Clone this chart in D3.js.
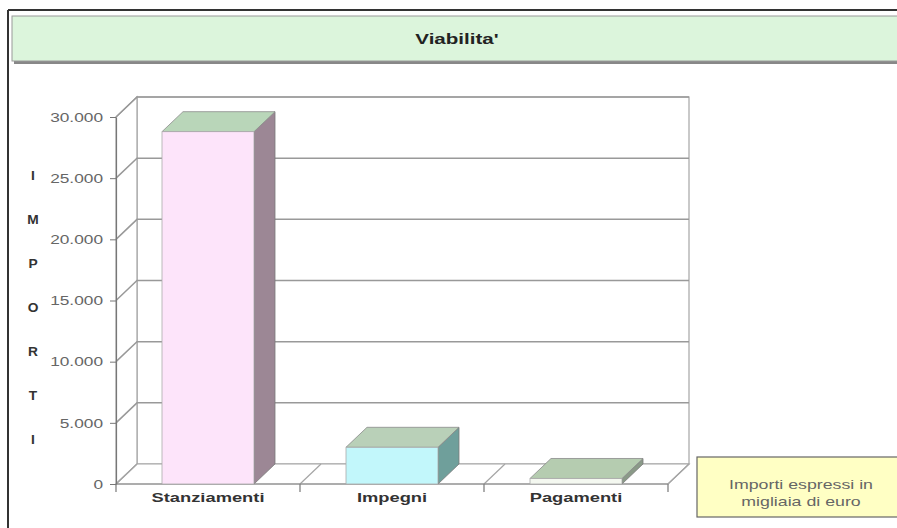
<!DOCTYPE html>
<html>
<head>
<meta charset="utf-8">
<script src="https://cdn.jsdelivr.net/npm/d3@7"></script>
<style>
  body { margin: 0; background: #fff; }
  text { font-family: "Liberation Sans", Arial, sans-serif; }
</style>
</head>
<body>
<svg id="chart" width="897" height="528"></svg>
<script>
// chart data
const categories = ['Stanziamenti', 'Impegni', 'Pagamenti'];
const values = [28800, 3000, 450];
const yTicks = [0, 5000, 10000, 15000, 20000, 25000, 30000];
const axisLetters = ['I', 'M', 'P', 'O', 'R', 'T', 'I'];
const title = "Viabilita'";
const noteLines = ['Importi espressi in', 'migliaia di euro'];

const faceColors = [
    { front: '#fde4fa', side: '#9c8795', top: '#b9d6b9' },
    { front: '#c2f7fb', side: '#6f9f9b', top: '#b9d0b8' },
    { front: '#f4f8f0', side: '#8a9a88', top: '#b5ccb0' }
];

const svg = d3.select('#chart');
const W = 897, H = 528;

// the original picture is stretched sideways, so text gets a horizontal scale
const stretch = 1.42;

// 3d depth offset
const dx = 21, dy = -20;

const x = d3.scaleBand()
    .domain(categories)
    .range([116, 668])
    .padding(0);

const y = d3.scaleLinear()
    .domain([0, 30000])
    .range([484, 117]);

const locale = d3.formatLocale({ decimal: ',', thousands: '.', grouping: [3], currency: ['€', ''] });
const fmt = locale.format(',d');

// text placed at (tx, ty) and widened around its anchor
function wideText(tx, ty, s, sx) {
    return svg.append('text')
        .attr('transform', `translate(${tx},${ty}) scale(${sx || stretch},1)`)
        .attr('text-anchor', 'middle')
        .text(s);
}

// outer frame
svg.append('line').attr('x1', 8).attr('y1', 10).attr('x2', W).attr('y2', 10)
    .attr('stroke', '#333').attr('stroke-width', 2);
svg.append('line').attr('x1', 8).attr('y1', 10).attr('x2', 8).attr('y2', H)
    .attr('stroke', '#333').attr('stroke-width', 2);

// title box
svg.append('rect').attr('x', 14).attr('y', 18).attr('width', 900).attr('height', 46)
    .attr('fill', '#888');
svg.append('rect').attr('x', 12).attr('y', 16).attr('width', 900).attr('height', 45)
    .attr('fill', '#dcf5dc').attr('stroke', '#9a9a9a').attr('stroke-width', 1);
wideText(457, 44, title, 1.42)
    .attr('font-size', 14.5).attr('font-weight', 'bold').attr('fill', '#222');

const x0 = x.range()[0], x1 = x.range()[1];
const yTop = y(30000), yBot = y(0);
const wall = '#a5a5a5';

// back wall + side wall
svg.append('rect').attr('x', x0 + dx).attr('y', yTop + dy)
    .attr('width', x1 - x0).attr('height', yBot - yTop)
    .attr('fill', '#fff').attr('stroke', wall).attr('stroke-width', 1.2);
svg.append('path')
    .attr('d', `M${x0},${yBot} L${x0},${yTop} L${x0 + dx},${yTop + dy} L${x0 + dx},${yBot + dy} Z`)
    .attr('fill', '#fff').attr('stroke', wall).attr('stroke-width', 1.2);
// floor
svg.append('path')
    .attr('d', `M${x0},${yBot} L${x1},${yBot} L${x1 + dx},${yBot + dy} L${x0 + dx},${yBot + dy} Z`)
    .attr('fill', '#fff').attr('stroke', wall).attr('stroke-width', 1.2);

// gridlines on walls
yTicks.forEach(t => {
    if (t === 0) return;
    svg.append('path')
        .attr('d', `M${x0},${y(t)} L${x0 + dx},${y(t) + dy} L${x1 + dx},${y(t) + dy}`)
        .attr('fill', 'none').attr('stroke', '#999').attr('stroke-width', 1.5);
});

// floor diagonals at category boundaries
const bounds = categories.map(c => x(c)).concat([x1]);
bounds.forEach(b => {
    svg.append('line').attr('x1', b).attr('y1', yBot).attr('x2', b + dx).attr('y2', yBot + dy)
        .attr('stroke', wall).attr('stroke-width', 1.2);
    svg.append('line').attr('x1', b).attr('y1', yBot).attr('x2', b).attr('y2', yBot + 8)
        .attr('stroke', '#777').attr('stroke-width', 1.2);
});
svg.append('line').attr('x1', x0).attr('y1', yBot).attr('x2', x1).attr('y2', yBot)
    .attr('stroke', '#888').attr('stroke-width', 1.2);

// bars
const bw = x.bandwidth() * 0.5;
categories.forEach((c, i) => {
    const bx = x(c) + x.bandwidth() * 0.25;
    const by = y(values[i]);
    const col = faceColors[i];
    const g = svg.append('g');
    // side
    g.append('path')
        .attr('d', `M${bx + bw},${by} L${bx + bw + dx},${by + dy} L${bx + bw + dx},${yBot + dy} L${bx + bw},${yBot} Z`)
        .attr('fill', col.side).attr('stroke', '#7a7a7a').attr('stroke-width', 0.8);
    // top
    g.append('path')
        .attr('d', `M${bx},${by} L${bx + dx},${by + dy} L${bx + bw + dx},${by + dy} L${bx + bw},${by} Z`)
        .attr('fill', col.top).attr('stroke', '#8a8a8a').attr('stroke-width', 0.8);
    // front
    g.append('rect').attr('x', bx).attr('y', by).attr('width', bw).attr('height', yBot - by)
        .attr('fill', col.front).attr('stroke', '#aaa').attr('stroke-width', 0.8);
});

// y axis
const tickStretch = 1.33;
const yAxis = svg.append('g')
    .attr('transform', `translate(${x0},0)`)
    .call(d3.axisLeft(y).tickValues(yTicks).tickFormat(fmt).tickSize(6).tickSizeOuter(0));
yAxis.select('.domain').attr('stroke', '#777').attr('stroke-width', 1.2);
yAxis.selectAll('.tick line').attr('stroke', '#777');
yAxis.selectAll('.tick text')
    .attr('font-family', '"Liberation Sans", Arial, sans-serif')
    .attr('font-size', 13).attr('fill', '#666')
    .attr('transform', `scale(${tickStretch},1)`)
    .attr('x', -13 / tickStretch);

// category labels
categories.forEach(c => {
    wideText(x(c) + x.bandwidth() / 2, 502, c, 1.41)
        .attr('font-size', 13).attr('font-weight', 'bold').attr('fill', '#333');
});

// vertical axis title, stacked letters
axisLetters.forEach((l, i) => {
    wideText(33, 180 + i * 44, l, 1.1)
        .attr('font-size', 12.5).attr('font-weight', 'bold').attr('fill', '#333');
});

// note box
svg.append('rect').attr('x', 697).attr('y', 457).attr('width', 210).attr('height', 60)
    .attr('fill', '#ffffc4').attr('stroke', '#666').attr('stroke-width', 1.2);
noteLines.forEach((l, i) => {
    wideText(801, 489 + i * 17, l, 1.48)
        .attr('font-size', 12).attr('fill', '#666');
});
</script>
</body>
</html>
